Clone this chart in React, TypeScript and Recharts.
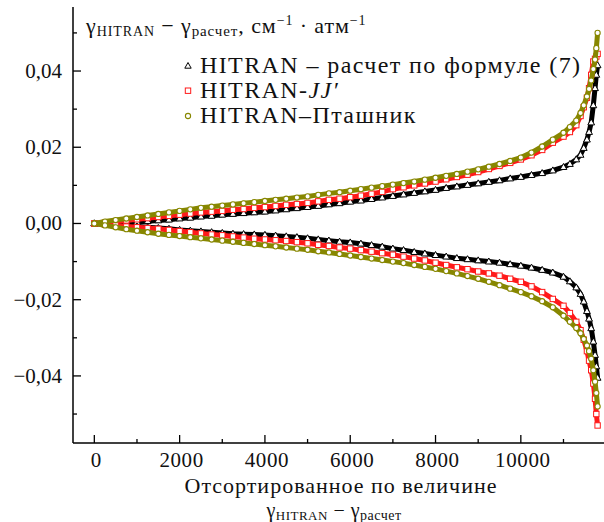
import React from 'react';
import { Legend, Scatter, ScatterChart, XAxis, YAxis } from 'recharts';

// rank of the line after sorting (x) and the difference in 10^-3 cm^-1 atm^-1 (y)
const ranks = [
  0, 250, 500, 750, 1000, 1250, 1500, 1750, 2000, 2250, 2500, 2750, 3000, 3250, 3500, 3750, 4000,
  4250, 4500, 4750, 5000, 5250, 5500, 5750, 6000, 6250, 6500, 6750, 7000, 7250, 7500, 7750, 8000,
  8250, 8500, 8750, 9000, 9250, 9500, 9750, 10000, 10250, 10500, 10750, 11000, 11150, 11300, 11400,
  11475, 11550, 11600, 11650, 11700, 11740, 11770, 11800,
];

const formulaPos = [
  0, 0.1, 0.2, 0.3, 0.4, 0.6, 0.8, 1.0, 1.3, 1.5, 1.8, 2.0, 2.3, 2.5, 2.7, 2.9, 3.1, 3.4, 3.7, 4.0,
  4.3, 4.6, 5.0, 5.3, 5.7, 6.0, 6.4, 6.8, 7.2, 7.6, 8.0, 8.4, 8.8, 9.3, 9.7, 10.1, 10.5, 10.9, 11.3,
  11.8, 12.2, 12.7, 13.2, 13.9, 14.8, 15.6, 16.8, 18.0, 19.8, 22.0, 24.0, 26.5, 31.0, 35.5, 39.0, 41.5,
];
const formulaNeg = [
  0, -0.2, -0.4, -0.6, -0.8, -1.0, -1.2, -1.4, -1.7, -1.9, -2.1, -2.3, -2.5, -2.7, -2.8, -2.9, -3.0,
  -3.2, -3.4, -3.6, -3.9, -4.2, -4.5, -4.8, -5.0, -5.3, -5.7, -6.1, -6.6, -7.0, -7.5, -7.9, -8.3,
  -8.7, -9.1, -9.4, -9.7, -10.0, -10.3, -10.7, -11.1, -11.6, -12.2, -12.9, -14.0, -15.2, -16.8,
  -18.5, -20.5, -23.0, -25.0, -27.5, -31.0, -34.5, -37.5, -40.5,
];
const jjPos = [
  0, 0.2, 0.5, 0.8, 1.1, 1.4, 1.7, 2.0, 2.3, 2.6, 2.9, 3.1, 3.3, 3.6, 3.8, 4.1, 4.3, 4.6, 4.9, 5.1,
  5.4, 5.8, 6.2, 6.5, 6.9, 7.3, 7.8, 8.3, 9.0, 9.5, 10.0, 10.5, 11.0, 11.6, 12.2, 12.8, 13.5, 14.3,
  15.1, 15.9, 16.8, 17.9, 19.3, 21.2, 22.8, 24.0, 25.8, 28.2, 30.5, 33.0, 35.5, 39.0, 42.5, 43.2,
  43.8, 44.5,
];
const jjNeg = [
  0, -0.3, -0.5, -0.8, -1.0, -1.2, -1.4, -1.7, -2.0, -2.3, -2.6, -2.9, -3.1, -3.4, -3.7, -4.0, -4.2,
  -4.4, -4.6, -4.9, -5.2, -5.6, -5.9, -6.3, -6.6, -7.0, -7.4, -7.8, -8.2, -8.7, -9.2, -9.7, -10.3,
  -10.9, -11.5, -12.0, -12.6, -13.1, -13.7, -14.5, -15.3, -16.5, -18.0, -19.8, -21.6, -23.5, -25.8,
  -28.0, -30.5, -33.5, -36.0, -38.5, -42.0, -46.0, -50.0, -53.0,
];
const ptashnikPos = [
  0, 0.5, 0.9, 1.3, 1.7, 2.1, 2.5, 2.9, 3.3, 3.7, 4.1, 4.4, 4.7, 5.0, 5.3, 5.6, 5.9, 6.2, 6.5, 6.8,
  7.1, 7.5, 7.9, 8.2, 8.6, 9.0, 9.4, 9.8, 10.2, 10.6, 11.0, 11.5, 12.0, 12.5, 13.0, 13.6, 14.2, 14.9,
  15.6, 16.4, 17.3, 18.6, 20.2, 22.0, 23.8, 25.3, 27.0, 29.0, 31.0, 33.3, 35.3, 37.5, 40.5, 43.0,
  46.0, 50.0,
];
const ptashnikNeg = [
  0, -0.5, -1.0, -1.5, -1.9, -2.3, -2.7, -3.0, -3.3, -3.6, -3.9, -4.2, -4.5, -4.8, -5.1, -5.4, -5.7,
  -6.0, -6.3, -6.6, -6.9, -7.3, -7.6, -8.0, -8.4, -8.8, -9.2, -9.6, -10.0, -10.4, -10.9, -11.4,
  -11.9, -12.5, -13.1, -13.8, -14.5, -15.3, -16.2, -17.1, -18.0, -19.1, -20.4, -22.0, -24.2, -25.8,
  -27.4, -28.8, -30.3, -32.0, -33.5, -35.5, -38.5, -41.5, -44.5, -48.0,
];

const xMajor = [0, 2000, 4000, 6000, 8000, 10000];
const xMinor = [1000, 3000, 5000, 7000, 9000, 11000];
const yMajor = [-40, -20, 0, 20, 40];
const yMinor = [-50, -30, -10, 10, 30, 50];

const legendLabels = ['HITRAN \u2013 расчет по формуле (7)', 'HITRAN-', 'HITRAN\u2013Пташник'];

const OLIVE = '#878700';
const RED = '#ff1a1a';
const FONT = '"Liberation Serif", "Times New Roman", serif';

const toPoints = (vals: number[]) => ranks.map((r, i) => ({ x: r, y: vals[i] }));

const Triangle = ({ cx, cy }: any) => (
  <path
    d={`M${cx},${cy - 3.6}L${cx + 3.4},${cy + 2.4}L${cx - 3.4},${cy + 2.4}Z`}
    fill="#fff"
    stroke="#000"
    strokeWidth={1}
  />
);
const Square = ({ cx, cy }: any) => (
  <rect x={cx - 2.7} y={cy - 2.7} width={5.4} height={5.4} fill="#fff" stroke={RED} strokeWidth={1} />
);
const Ring = ({ cx, cy }: any) => (
  <circle cx={cx} cy={cy} r={2.6} fill="#fff" stroke={OLIVE} strokeWidth={1.1} />
);

const XTick = ({ x, y, payload }: any) => {
  const major = xMajor.includes(payload.value);
  return (
    <g>
      <line x1={x} x2={x} y1={y} y2={y - (major ? 8 : 4)} stroke="#000" strokeWidth={1.3} />
      {major && (
        <text x={x + 2} y={y + 24} textAnchor="middle" fontFamily={FONT} fontSize={21} letterSpacing={0.6} fill="#111">
          {payload.value}
        </text>
      )}
    </g>
  );
};

const YTick = ({ x, y, payload }: any) => {
  const major = yMajor.includes(payload.value);
  const label = (payload.value / 1000).toFixed(2).replace('.', ',').replace('-', '\u2212');
  return (
    <g>
      <line x1={x} x2={x + (major ? 8 : 4)} y1={y} y2={y} stroke="#000" strokeWidth={1.3} />
      {major && (
        <text x={x - 11} y={y + 7} textAnchor="end" fontFamily={FONT} fontSize={21} fill="#111">
          {label}
        </text>
      )}
    </g>
  );
};

const Title = () => (
  <text x={86} y={33} fontFamily={FONT} fontSize={22} letterSpacing={0.9} fill="#111">
    γ
    <tspan fontSize={14} dy={3}>HITRAN</tspan>
    <tspan dy={-3}> − γ</tspan>
    <tspan fontSize={15} dy={3}>расчет</tspan>
    <tspan dy={-3}>, см</tspan>
    <tspan fontSize={14} dy={-8}>−1</tspan>
    <tspan dy={8}> · атм</tspan>
    <tspan fontSize={14} dy={-8}>−1</tspan>
  </text>
);

const XLabel = () => (
  <g fontFamily={FONT} fill="#111">
    <text x={341} y={493} textAnchor="middle" fontSize={22} letterSpacing={1}>
      Отсортированное по величине
    </text>
    <text x={334} y={517} textAnchor="middle" fontSize={20} letterSpacing={0.5}>
      γ
      <tspan fontSize={13} dy={3}>HITRAN</tspan>
      <tspan dy={-3}> − γ</tspan>
      <tspan fontSize={14} dy={3}>расчет</tspan>
    </text>
  </g>
);

const LegendBox = () => {
  const icons = [
    <path key="t" d="M6,2.5L9.2,8.2L2.8,8.2Z" fill="#fff" stroke="#000" strokeWidth={1} />,
    <rect key="s" x={3.3} y={3} width={5.4} height={5.4} fill="#fff" stroke={RED} strokeWidth={1} />,
    <circle key="c" cx={6} cy={6} r={2.6} fill="#fff" stroke={OLIVE} strokeWidth={1.1} />,
  ];
  return (
    <div style={{ fontFamily: FONT, fontSize: 24, letterSpacing: 1.4, color: '#111', lineHeight: '25px' }}>
      {legendLabels.map((label, i) => (
        <div key={label} style={{ display: 'flex', alignItems: 'center', whiteSpace: 'nowrap' }}>
          <svg width={12} height={12} style={{ marginRight: 6 }}>
            {icons[i]}
          </svg>
          <span>
            {label}
            {i === 1 && <i>JJ′</i>}
          </span>
        </div>
      ))}
    </div>
  );
};

export default function App() {
  return (
    <div style={{ position: 'absolute', left: 0, top: 0, background: '#fff' }}>
      <ScatterChart width={604} height={522} margin={{ top: 7, right: 0, bottom: 0, left: 0 }}>
        <XAxis
          type="number"
          dataKey="x"
          domain={[-500, 11950]}
          ticks={[...xMajor, ...xMinor].sort((a, b) => a - b)}
          interval={0}
          height={79}
          tickSize={0}
          tickMargin={0}
          tickLine={false}
          tick={<XTick />}
          axisLine={{ stroke: '#000', strokeWidth: 1.5 }}
          allowDataOverflow
          label={{ content: () => <XLabel /> }}
        />
        <YAxis
          type="number"
          dataKey="y"
          domain={[-57.6, 56.8]}
          ticks={[...yMajor, ...yMinor].sort((a, b) => a - b)}
          interval={0}
          width={73}
          tickSize={0}
          tickMargin={0}
          tickLine={false}
          tick={<YTick />}
          axisLine={{ stroke: '#000', strokeWidth: 1.5 }}
          allowDataOverflow
          label={{ content: () => <Title /> }}
        />
        <Legend
          layout="vertical"
          align="center"
          verticalAlign="middle"
          content={<LegendBox />}
          wrapperStyle={{ left: 182, top: 53, width: 420 }}
        />
        <Scatter data={toPoints(formulaPos)} line={{ stroke: '#000', strokeWidth: 5 }} shape={<Triangle />} isAnimationActive={false} />
        <Scatter data={toPoints(formulaNeg)} line={{ stroke: '#000', strokeWidth: 5 }} shape={<Triangle />} isAnimationActive={false} />
        <Scatter data={toPoints(jjPos)} line={{ stroke: RED, strokeWidth: 5 }} shape={<Square />} isAnimationActive={false} />
        <Scatter data={toPoints(jjNeg)} line={{ stroke: RED, strokeWidth: 5 }} shape={<Square />} isAnimationActive={false} />
        <Scatter data={toPoints(ptashnikPos)} line={{ stroke: OLIVE, strokeWidth: 5 }} shape={<Ring />} isAnimationActive={false} />
        <Scatter data={toPoints(ptashnikNeg)} line={{ stroke: OLIVE, strokeWidth: 5 }} shape={<Ring />} isAnimationActive={false} />
      </ScatterChart>
    </div>
  );
}
